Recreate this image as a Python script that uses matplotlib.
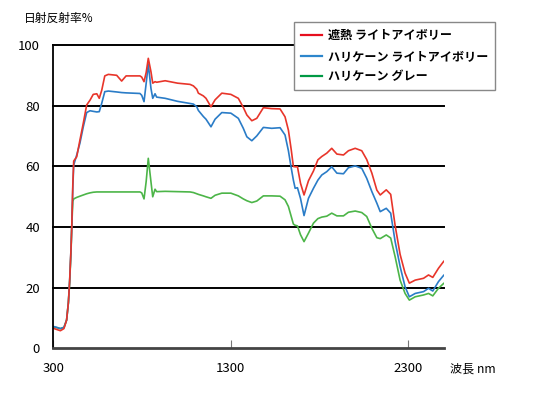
import numpy as np
import matplotlib
matplotlib.use("Agg")
import matplotlib.pyplot as plt
from matplotlib.lines import Line2D

plt.rcParams['font.family'] = ['Noto Sans CJK JP', 'DejaVu Sans']

# wavelength grid (nm) and reflectance (%)
wavelength = [300, 320, 340, 360, 375, 385, 392, 400, 404, 410, 415, 432, 450, 469, 488,
              507, 525, 545, 559, 573, 590, 610, 657, 685, 710, 788, 798, 811, 823, 835,
              850, 860, 873, 882, 930, 1000, 1070, 1089, 1108, 1117, 1145, 1160, 1188, 1211,
              1249, 1300, 1342, 1370, 1390, 1418, 1446, 1483, 1530, 1577, 1605, 1624, 1640,
              1652, 1662, 1675, 1692, 1712, 1737, 1765, 1790, 1812, 1840, 1868, 1897, 1934,
              1962, 2000, 2037, 2065, 2094, 2122, 2141, 2175, 2200, 2225, 2253, 2281, 2305,
              2338, 2385, 2413, 2437, 2469, 2500]

shanetsu_ivory = [6.6, 6.2, 5.8, 6.5, 9.3, 15, 22, 33, 40, 54, 61.8, 63.2, 68.7, 74.3, 80.3,
                  81.9, 83.8, 84.0, 82.5, 85.2, 89.9, 90.4, 90.1, 88.2, 89.9, 89.9, 89.5, 88.0, 91.0, 95.7,
                  91.3, 87.5, 88.0, 87.8, 88.3, 87.5, 87.1, 86.6, 85.5, 84.2, 83.3, 82.5, 79.7, 82.0,
                  84.2, 83.8, 82.5, 79.5, 77.0, 75.1, 75.9, 79.4, 79.1, 79.0, 76.4, 72.0, 65.5,
                  60.0, 59.9, 59.9, 54.5, 50.6, 55.3, 58.5, 62.2, 63.3, 64.4, 66.0, 64.1, 63.8,
                  65.2, 66.0, 65.2, 62.3, 57.8, 52.2, 50.6, 52.3, 50.8, 40.5, 31.0, 24.8, 21.5,
                  22.5, 23.1, 24.2, 23.4, 26.4, 28.8]

hurricane_ivory = [7.2, 6.9, 6.5, 6.9, 9.3, 15, 22, 33, 40, 53, 60.5, 63.8, 67.7, 73.1, 77.8,
                   78.4, 78.2, 78.0, 78.1, 80.9, 84.7, 84.9, 84.6, 84.4, 84.3, 84.1, 83.5, 81.4, 87.4, 93.8,
                   85.8, 82.5, 84.0, 82.9, 82.5, 81.5, 80.8, 80.6, 79.7, 78.5, 76.5, 75.6, 73.1, 75.6,
                   77.8, 77.6, 75.9, 72.6, 69.8, 68.5, 70.1, 72.9, 72.6, 72.8, 70.4, 65.2, 59.5,
                   55.5, 52.8, 53.0, 49.5, 43.8, 49.5, 52.8, 55.5, 57.2, 58.3, 59.9, 57.8, 57.6,
                   59.6, 60.2, 59.4, 56.1, 51.7, 47.9, 45.1, 46.2, 44.6, 35.2, 27.0, 20.3, 17.0,
                   18.1, 18.7, 19.8, 18.9, 22.0, 24.2]

hurricane_gray = [7.1, 6.8, 6.5, 6.9, 9.3, 15, 21.5, 32, 40, 48.5, 49.3, 49.8, 50.2, 50.6, 51.0,
                  51.3, 51.5, 51.6, 51.6, 51.6, 51.6, 51.6, 51.6, 51.6, 51.6, 51.6, 51.3, 49.3, 55.0, 62.7,
                  55.0, 50.0, 52.5, 51.7, 51.8, 51.7, 51.6, 51.4, 51.0, 50.8, 50.3, 50.0, 49.5, 50.5,
                  51.2, 51.2, 50.3, 49.3, 48.7, 48.1, 48.6, 50.3, 50.3, 50.2, 49.0, 46.8, 43.5,
                  41.0, 40.6, 40.4, 37.5, 35.2, 38.0, 41.3, 42.8, 43.3, 43.6, 44.6, 43.7, 43.7,
                  44.9, 45.3, 44.8, 43.5, 39.6, 36.5, 36.2, 37.4, 36.4, 30.2, 22.5, 18.1, 15.9,
                  17.0, 17.6, 18.1, 17.3, 19.8, 21.5]

labels = ['遮熱 ライトアイボリー', 'ハリケーン ライトアイボリー', 'ハリケーン グレー']
x_ticks = [300, 1300, 2300]
y_ticks = [0, 20, 40, 60, 80, 100]

fig = plt.figure(figsize=(5.36, 3.97), dpi=100)
ax = fig.add_axes([0.0994, 0.1227, 0.7289, 0.7632])

for yv in y_ticks[1:]:
    ax.axhline(yv, color='black', lw=1.4, zorder=1, clip_on=False)

line_kw = dict(lw=1.2, solid_joinstyle='round', solid_capstyle='round')
ax.plot(wavelength, hurricane_gray, color='#4cb548', zorder=3, **line_kw)
ax.plot(wavelength, hurricane_ivory, color='#2a7cc7', zorder=4, **line_kw)
ax.plot(wavelength, shanetsu_ivory, color='#e8352a', zorder=5, **line_kw)

ax.set_xlim(300, 2500)
ax.set_ylim(0, 100)
ax.set_xticks(x_ticks)
ax.set_yticks(y_ticks)
ax.tick_params(axis='x', direction='in', length=6, width=0.8, color='#777777',
               pad=10, labelsize=9.5)
ax.tick_params(axis='y', length=0, pad=9.5, labelsize=9.5)

for s in ['top', 'right']:
    ax.spines[s].set_visible(False)
ax.spines['left'].set_color('black')
ax.spines['left'].set_linewidth(1.3)
ax.spines['bottom'].set_color('#444444')
ax.spines['bottom'].set_linewidth(2.0)
ax.spines['left'].set_zorder(6)
ax.spines['bottom'].set_zorder(6)

fig.text(24 / 536, 1 - 18 / 397, '日射反射率%', fontsize=8.5, va='center', ha='left')
fig.text(450 / 536, 1 - 369 / 397, '波長 nm', fontsize=8.7, va='center', ha='left')

handles = [Line2D([], [], color='#e60f1e', lw=1.6),
           Line2D([], [], color='#2d86cc', lw=1.6),
           Line2D([], [], color='#009944', lw=1.6)]
leg = ax.legend(handles, labels, loc='upper left',
                bbox_to_anchor=(294 / 536, 1 - 22 / 397), bbox_transform=fig.transFigure,
                borderaxespad=0, fancybox=False, framealpha=1, edgecolor='#888888',
                prop={'size': 8.7, 'weight': 'bold'}, handlelength=1.7, handletextpad=0.5,
                borderpad=0.6, labelspacing=0.62)
leg.get_frame().set_linewidth(1.0)
leg.set_zorder(10)

fig.savefig('out.png', dpi=100)
